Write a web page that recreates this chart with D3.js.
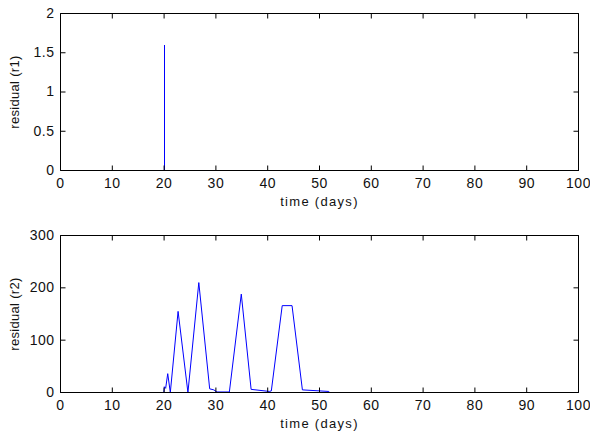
<!DOCTYPE html>
<html>
<head>
<meta charset="utf-8">
<script src="https://cdn.jsdelivr.net/npm/d3@7"></script>
<style>
  html, body { margin: 0; padding: 0; background: #fff; }
  svg { display: block; }
  text { font-family: "Liberation Sans", Arial, sans-serif; }
</style>
</head>
<body>
<svg id="chart" width="590" height="436"></svg>
<script>
// ---- data ----
const xTicks = [0, 10, 20, 30, 40, 50, 60, 70, 80, 90, 100];
const r1Ticks = [0, 0.5, 1, 1.5, 2];
const r2Ticks = [0, 100, 200, 300];

const r1Time   = [0, 20, 20, 20, 100];
const r1Values = [0, 0, 1.6, 0, 0];

const r2Time   = [0, 19.95, 20.05, 20.3, 20.7, 21.2, 22.7, 24.6, 26.7, 28.8, 29.6, 30.2, 32.6, 34.9, 36.8, 40.3, 40.7, 42.8, 44.7, 46.7, 51.8, 52.0, 100];
const r2Values = [0, 0, 11, 8, 36, 0, 155, 0, 210, 7, 5, 1, 1, 188, 6, 2, 3, 166, 166, 5, 2, 0, 0];

const xLabel = "time (days)";
const yLabel1 = "residual (r1)";
const yLabel2 = "residual (r2)";

// ---- layout ----
const svg = d3.select("#chart");
const left = 60.5, right = 578.5;
const panels = [
  { top: 13.5, bottom: 170.5, domain: [0, 2], ticks: r1Ticks, t: r1Time, v: r1Values, ylab: yLabel1, xlabY: 206, crisp: true },
  { top: 235.5, bottom: 392.5, domain: [0, 300], ticks: r2Ticks, t: r2Time, v: r2Values, ylab: yLabel2, xlabY: 428, crisp: false }
];

const x = d3.scaleLinear().domain([0, 100]).range([left, right]);

panels.forEach(p => {
  const y = d3.scaleLinear().domain(p.domain).range([p.bottom, p.top]);
  const g = svg.append("g");

  // data line
  const line = d3.line().x((d, i) => x(p.t[i])).y(d => y(d));
  g.append("path")
    .datum(p.v)
    .attr("d", line)
    .attr("fill", "none")
    .attr("stroke", "#0000ff")
    .attr("stroke-width", 1)
    .attr("shape-rendering", p.crisp ? "crispEdges" : "auto");

  const fmt = d => d3.format("~g")(d);

  const ax = g.append("g").attr("transform", `translate(0,${p.bottom})`)
    .call(d3.axisBottom(x).offset(0).tickValues(xTicks).tickFormat(fmt).tickSizeInner(-5).tickSizeOuter(0).tickPadding(8));
  const at = g.append("g").attr("transform", `translate(0,${p.top})`)
    .call(d3.axisTop(x).offset(0).tickValues(xTicks).tickFormat("").tickSizeInner(-5).tickSizeOuter(0));
  const al = g.append("g").attr("transform", `translate(${left},0)`)
    .call(d3.axisLeft(y).offset(0).tickValues(p.ticks).tickFormat(fmt).tickSizeInner(-5).tickSizeOuter(0).tickPadding(6));
  const ar = g.append("g").attr("transform", `translate(${right},0)`)
    .call(d3.axisRight(y).offset(0).tickValues(p.ticks).tickFormat("").tickSizeInner(-5).tickSizeOuter(0));

  [ax, at, al, ar].forEach(a => {
    a.select(".domain").attr("stroke", "#000");
    a.selectAll(".tick line").attr("stroke", "#000");
    a.selectAll("text").attr("font-size", 14).attr("fill", "#111")
      .attr("letter-spacing", "0.5px")
      .attr("font-family", "'Liberation Sans', Arial, sans-serif");
  });

  // x label
  g.append("text")
    .attr("x", (left + right) / 2)
    .attr("y", p.xlabY)
    .attr("text-anchor", "middle")
    .attr("font-size", 13)
    .attr("letter-spacing", "1.3px")
    .attr("fill", "#111")
    .text(xLabel);

  // y label
  g.append("text")
    .attr("transform", `translate(19,${(p.top + p.bottom) / 2}) rotate(-90)`)
    .attr("text-anchor", "middle")
    .attr("font-size", 13)
    .attr("letter-spacing", "0.3px")
    .attr("fill", "#111")
    .text(p.ylab);
});
</script>
</body>
</html>
